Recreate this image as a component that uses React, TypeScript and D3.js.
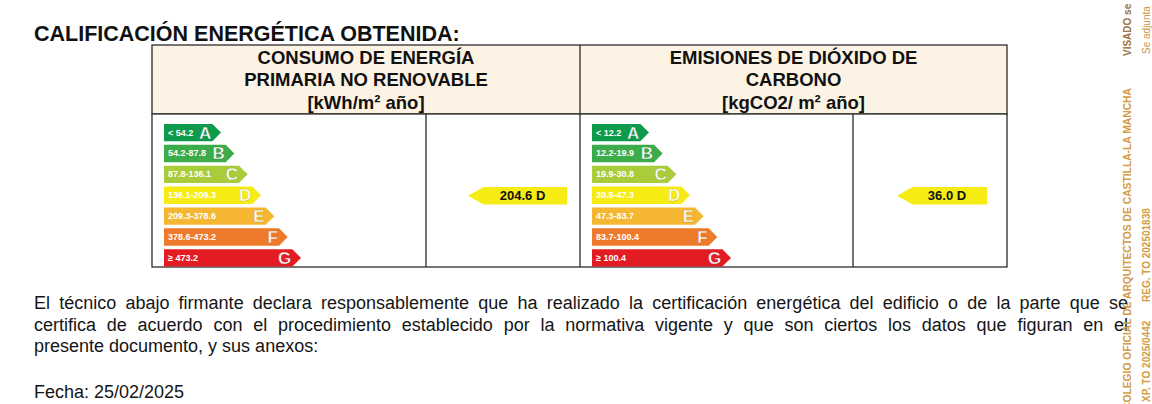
import React, { useEffect, useRef } from "react";
import * as d3 from "d3";

// ---- data ----
const grades = ["A", "B", "C", "D", "E", "F", "G"];
const gradeColors = ["#0d9a4c", "#3cab4a", "#a9cc3a", "#f6ec14", "#f5b731", "#ee7b2c", "#e31b23"];
const consumoRanges = ["< 54.2", "54.2-87.8", "87.8-136.1", "136.1-209.3", "209.3-378.6", "378.6-473.2", "≥ 473.2"];
const emisionesRanges = ["< 12.2", "12.2-19.9", "19.9-30.8", "30.8-47.3", "47.3-83.7", "83.7-100.4", "≥ 100.4"];
const consumoValue = "204.6";
const consumoGrade = "D";
const emisionesValue = "36.0";
const emisionesGrade = "D";
const consumoHeader = ["CONSUMO DE ENERGÍA", "PRIMARIA NO RENOVABLE", "[kWh/m² año]"];
const emisionesHeader = ["EMISIONES DE DIÓXIDO DE", "CARBONO", "[kgCO2/ m² año]"];
const title = "CALIFICACIÓN ENERGÉTICA OBTENIDA:";
const paragraph = [
  "El técnico abajo firmante declara responsablemente que ha realizado la certificación energética del edificio o de la parte que se",
  "certifica de acuerdo con el procedimiento establecido por la normativa vigente y que son ciertos los datos que figuran en el",
  "presente documento, y sus anexos:",
];
const fecha = "Fecha: 25/02/2025";
const stampCol1 = ["COLEGIO OFICIAL DE ARQUITECTOS DE CASTILLA-LA MANCHA", "VISADO se"];
const stampCol2 = ["XP. TO 2025/0442", "REG. TO 202501838", "Se adjunta"];

const W = 1152;
const H = 404;
const FONT = "'Liberation Sans', Arial, sans-serif";
const NARROW = "'Liberation Sans Narrow', 'Arial Narrow', 'Liberation Sans', sans-serif";

const yBand = d3.scaleBand<string>().domain(grades).range([123.5, 267]).paddingInner(0.17).paddingOuter(0.02);
const gradeIndex = d3.scaleOrdinal<string, number>().domain(grades).range(d3.range(grades.length));

function arrowPath(x0: number, x1: number, y: number, h: number) {
  const p = d3.path();
  p.moveTo(x0, y);
  p.lineTo(x1 - h / 2, y);
  p.lineTo(x1, y + h / 2);
  p.lineTo(x1 - h / 2, y + h);
  p.lineTo(x0, y + h);
  p.closePath();
  return p.toString();
}
function leftArrowPath(x0: number, x1: number, y: number, h: number) {
  const p = d3.path();
  p.moveTo(x0, y + h / 2);
  p.lineTo(x0 + h * 0.9, y);
  p.lineTo(x1, y);
  p.lineTo(x1, y + h);
  p.lineTo(x0 + h * 0.9, y + h);
  p.closePath();
  return p.toString();
}

function Scale({ x0, w0, w1, ranges }: { x0: number; w0: number; w1: number; ranges: string[] }) {
  const wScale = d3.scaleLinear().domain([0, grades.length - 1]).range([w0, w1]);
  const h = yBand.bandwidth();
  return (
    <g>
      {grades.map((g, i) => {
        const y = yBand(g)!;
        const x1 = x0 + wScale(gradeIndex(g));
        return (
          <g key={g}>
            <path d={arrowPath(x0, x1, y, h)} fill={gradeColors[i]} />
            <text x={x0 + 4} y={y + h / 2 + 3} fontFamily={NARROW} fontWeight="bold" fontSize={9} fill="#fff">
              {ranges[i]}
            </text>
            <text x={x1 - h / 2 - 1} y={y + h / 2 + 6} textAnchor="end" fontFamily={FONT} fontWeight="bold" fontSize={17} fill="#fff" stroke={d3.color(gradeColors[i])!.darker(0.6).toString()} strokeWidth={0.4}>
              {g}
            </text>
          </g>
        );
      })}
    </g>
  );
}

function Indicator({ x0, x1, grade, label }: { x0: number; x1: number; grade: string; label: string }) {
  const h = yBand.bandwidth();
  const y = yBand(grade)! + 0.5;
  const ci = grades.indexOf(grade);
  return (
    <g>
      <path d={leftArrowPath(x0, x1, y, h)} fill={gradeColors[ci]} />
      <text x={(x0 + x1) / 2 + 5} y={y + h / 2 + 4.5} textAnchor="middle" fontFamily={FONT} fontWeight="bold" fontSize={13} fill="#111">
        {label} {grade}
      </text>
    </g>
  );
}

function JustifiedLine({ text, x, y, width, justify }: { text: string; x: number; y: number; width: number; justify: boolean }) {
  const ref = useRef<SVGTextElement>(null);
  useEffect(() => {
    const el = ref.current;
    if (!el || !justify) return;
    el.setAttribute("word-spacing", "0");
    const natural = el.getComputedTextLength();
    const spaces = (text.match(/ /g) || []).length;
    if (spaces > 0) el.setAttribute("word-spacing", String((width - natural) / spaces));
  }, [text, width, justify]);
  return (
    <text ref={ref} x={x} y={y} fontFamily={FONT} fontSize={18} fill="#151515">
      {text}
    </text>
  );
}

export default function App() {
  const left = 152, mid = 580, right = 1007, divL = 426, divR = 853;
  const hTop = 45, hBot = 114, bBot = 267;
  const stroke = "#2b2b2b";
  const lineY = d3.scaleLinear().domain([0, 2]).range([64, 108.5]);
  return (
    <svg width={W} height={H} style={{ position: "absolute", left: 0, top: 0, background: "#fff" }}>
      <rect width={W} height={H} fill="#fff" />
      <text x={34} y={41} fontFamily={FONT} fontWeight="bold" fontSize={21.5} fill="#111">{title}</text>

      {/* header */}
      <rect x={left} y={hTop} width={right - left} height={hBot - hTop} fill="#fdf3e4" stroke={stroke} strokeWidth={1.3} />
      <line x1={mid} x2={mid} y1={hTop} y2={hBot} stroke={stroke} strokeWidth={1.3} />
      {consumoHeader.map((t, i) => (
        <text key={t} x={(left + mid) / 2} y={lineY(i)} textAnchor="middle" fontFamily={FONT} fontWeight="bold" fontSize={18.5} fill="#111">{t}</text>
      ))}
      {emisionesHeader.map((t, i) => (
        <text key={t} x={(mid + right) / 2} y={lineY(i)} textAnchor="middle" fontFamily={FONT} fontWeight="bold" fontSize={18.5} fill="#111">{t}</text>
      ))}

      {/* body */}
      <rect x={left} y={hBot} width={right - left} height={bBot - hBot} fill="#fff" stroke={stroke} strokeWidth={1.3} />
      {[divL, mid, divR].map((x) => (
        <line key={x} x1={x} x2={x} y1={hBot} y2={bBot} stroke={stroke} strokeWidth={1.3} />
      ))}

      <Scale x0={164} w0={57} w1={137} ranges={consumoRanges} />
      <Scale x0={592} w0={57} w1={139} ranges={emisionesRanges} />
      <Indicator x0={468} x1={567} grade={consumoGrade} label={consumoValue} />
      <Indicator x0={897} x1={987} grade={emisionesGrade} label={emisionesValue} />

      {/* paragraph */}
      <JustifiedLine text={paragraph[0]} x={34} y={309} width={1094} justify />
      <JustifiedLine text={paragraph[1]} x={34} y={331} width={1094} justify />
      <JustifiedLine text={paragraph[2]} x={34} y={352} width={0} justify={false} />
      <text x={34} y={398} fontFamily={FONT} fontSize={18} fill="#151515">{fecha}</text>

      {/* stamp */}
      <g fontFamily={FONT} fontSize={10} fontWeight="bold">
        <text transform={`translate(1131,410) rotate(-90)`} fill="#d39b45" textLength={322} lengthAdjust="spacingAndGlyphs">{stampCol1[0]}</text>
        <text transform={`translate(1131,56) rotate(-90)`} fill="#9a7440">{stampCol1[1]}</text>
        <text transform={`translate(1150,402) rotate(-90)`} fill="#d39b45">{stampCol2[0]}</text>
        <text transform={`translate(1150,302) rotate(-90)`} fill="#d39b45">{stampCol2[1]}</text>
        <text transform={`translate(1150,54) rotate(-90)`} fill="#c9953f" fontWeight="normal">{stampCol2[2]}</text>
      </g>
    </svg>
  );
}
